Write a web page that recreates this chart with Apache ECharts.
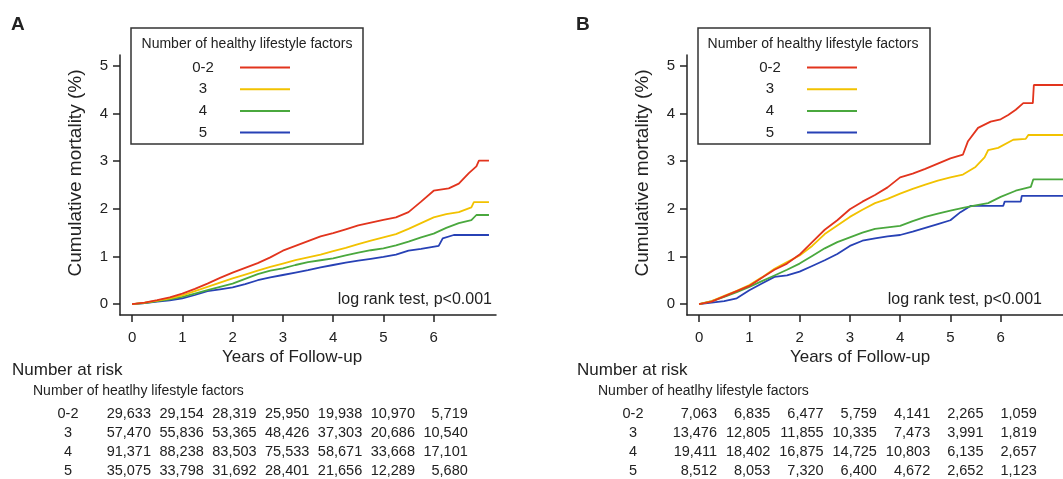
<!DOCTYPE html>
<html>
<head>
<meta charset="utf-8">
<script src="https://cdn.jsdelivr.net/npm/echarts@6/dist/echarts.min.js"></script>
<style>
  html, body { margin: 0; padding: 0; background: #fff; }
  #main { width: 1063px; height: 479px; }
</style>
</head>
<body>
<div id="main"></div>
<script>
// 分组名称和颜色
var groups = ['0-2', '3', '4', '5'];
var colors = ['#e2341d', '#f2c200', '#4aa83e', '#2741b5'];
var xTicks = [0, 1, 2, 3, 4, 5, 6];
var yTicks = [0, 1, 2, 3, 4, 5];

// 图A: [年, 累计死亡率%]
var a02 = [[0,0],[0.25,0.03],[0.5,0.08],[0.75,0.14],[1,0.22],[1.25,0.32],[1.5,0.43],[1.75,0.55],[2,0.66],[2.25,0.76],[2.5,0.86],[2.75,0.98],[3,1.12],[3.25,1.22],[3.5,1.32],[3.75,1.42],[4,1.49],[4.25,1.57],[4.5,1.65],[4.75,1.71],[5,1.77],[5.25,1.82],[5.5,1.93],[5.75,2.15],[6,2.38],[6.3,2.43],[6.5,2.53],[6.7,2.75],[6.85,2.89],[6.9,3.01],[7.1,3.01]];
var a3 = [[0,0],[0.25,0.03],[0.5,0.07],[0.75,0.12],[1,0.18],[1.25,0.27],[1.5,0.36],[1.75,0.45],[2,0.54],[2.25,0.62],[2.5,0.70],[2.75,0.78],[3,0.85],[3.25,0.92],[3.5,0.98],[3.75,1.04],[4,1.11],[4.25,1.18],[4.5,1.26],[4.75,1.33],[5,1.40],[5.25,1.47],[5.5,1.58],[5.75,1.70],[6,1.82],[6.25,1.89],[6.5,1.93],[6.75,2.03],[6.8,2.14],[7.1,2.14]];
var a4 = [[0,0],[0.25,0.02],[0.5,0.06],[0.75,0.10],[1,0.15],[1.25,0.22],[1.5,0.29],[1.75,0.36],[2,0.43],[2.25,0.53],[2.5,0.63],[2.75,0.70],[3,0.75],[3.25,0.82],[3.5,0.88],[3.75,0.92],[4,0.96],[4.25,1.02],[4.5,1.08],[4.75,1.13],[5,1.17],[5.25,1.23],[5.5,1.31],[5.75,1.40],[6,1.48],[6.25,1.60],[6.5,1.70],[6.75,1.76],[6.85,1.87],[7.1,1.87]];
var a5 = [[0,0],[0.25,0.02],[0.5,0.05],[0.75,0.08],[1,0.12],[1.25,0.19],[1.5,0.27],[1.75,0.31],[2,0.35],[2.25,0.42],[2.5,0.50],[2.75,0.56],[3,0.61],[3.25,0.66],[3.5,0.71],[3.75,0.77],[4,0.82],[4.25,0.87],[4.5,0.91],[4.75,0.95],[5,0.99],[5.25,1.04],[5.5,1.12],[5.75,1.16],[6.1,1.22],[6.18,1.38],[6.4,1.45],[7.1,1.45]];

// 图B
var b02 = [[0,0],[0.25,0.05],[0.5,0.16],[0.75,0.27],[1,0.38],[1.25,0.55],[1.5,0.72],[1.75,0.85],[2,1.04],[2.25,1.30],[2.5,1.56],[2.75,1.76],[3,1.99],[3.25,2.15],[3.5,2.29],[3.75,2.45],[4,2.66],[4.25,2.74],[4.5,2.84],[4.75,2.95],[5,3.06],[5.25,3.14],[5.35,3.42],[5.55,3.70],[5.8,3.83],[6,3.88],[6.15,3.97],[6.3,4.08],[6.45,4.22],[6.64,4.22],[6.66,4.60],[7.24,4.60]];
var b3 = [[0,0],[0.25,0.06],[0.5,0.17],[0.75,0.28],[1,0.40],[1.25,0.56],[1.5,0.74],[1.75,0.88],[2,1.02],[2.25,1.22],[2.5,1.47],[2.75,1.65],[3,1.83],[3.25,1.98],[3.5,2.12],[3.75,2.21],[4,2.32],[4.25,2.42],[4.5,2.51],[4.75,2.59],[5,2.66],[5.25,2.72],[5.5,2.88],[5.68,3.08],[5.75,3.23],[5.95,3.28],[6.25,3.45],[6.5,3.47],[6.55,3.55],[7.24,3.55]];
var b4 = [[0,0],[0.25,0.06],[0.5,0.15],[0.75,0.25],[1,0.36],[1.25,0.48],[1.5,0.60],[1.75,0.72],[2,0.85],[2.25,1.01],[2.5,1.17],[2.75,1.30],[3,1.40],[3.25,1.50],[3.5,1.58],[3.75,1.61],[4,1.64],[4.25,1.74],[4.5,1.83],[4.75,1.90],[5,1.96],[5.25,2.02],[5.5,2.07],[5.75,2.12],[6,2.25],[6.3,2.38],[6.6,2.46],[6.65,2.62],[7.24,2.62]];
var b5 = [[0,0],[0.25,0.03],[0.5,0.06],[0.75,0.12],[1,0.29],[1.25,0.43],[1.5,0.57],[1.75,0.60],[2,0.68],[2.25,0.80],[2.5,0.92],[2.75,1.05],[3,1.22],[3.25,1.33],[3.5,1.38],[3.75,1.42],[4,1.45],[4.25,1.52],[4.5,1.60],[4.75,1.68],[5,1.76],[5.2,1.93],[5.4,2.06],[6.05,2.06],[6.08,2.15],[6.4,2.15],[6.42,2.27],[7.24,2.27]];

// 风险人数表
var riskA = [
  [29633, 29154, 28319, 25950, 19938, 10970, 5719],
  [57470, 55836, 53365, 48426, 37303, 20686, 10540],
  [91371, 88238, 83503, 75533, 58671, 33668, 17101],
  [35075, 33798, 31692, 28401, 21656, 12289, 5680]
];
var riskB = [
  [7063, 6835, 6477, 5759, 4141, 2265, 1059],
  [13476, 12805, 11855, 10335, 7473, 3991, 1819],
  [19411, 18402, 16875, 14725, 10803, 6135, 2657],
  [8512, 8053, 7320, 6400, 4672, 2652, 1123]
];

var FONT = '"Liberation Sans", Arial, sans-serif';
var INK = '#222';

var myChart = echarts.init(document.getElementById('main'));

function xAxisOf(grid) {
  return {
    type: 'value', gridIndex: grid, min: -0.24, max: 7.24,
    axisLine: { show: true, onZero: false, lineStyle: { color: INK, width: 1.5 } },
    axisTick: { show: true, length: 7, customValues: xTicks, lineStyle: { color: INK, width: 1.5 } },
    axisLabel: { customValues: xTicks, margin: 15, fontSize: 15, color: INK, fontFamily: FONT },
    splitLine: { show: false }
  };
}
function yAxisOf(grid) {
  return {
    type: 'value', gridIndex: grid, min: -0.23, max: 5.23,
    name: 'Cumulative mortality (%)', nameLocation: 'middle', nameGap: 35,
    nameTextStyle: { fontSize: 19, color: INK, fontFamily: FONT, padding: [0, 0, 0, 24] },
    axisLine: { show: true, onZero: false, lineStyle: { color: INK, width: 1.5 } },
    axisTick: { show: true, length: 7, customValues: yTicks, lineStyle: { color: INK, width: 1.5 } },
    axisLabel: { customValues: yTicks, margin: 12, fontSize: 15, color: INK, fontFamily: FONT },
    splitLine: { show: false }
  };
}
function legendOf(left) {
  return {
    left: left, top: 28, orient: 'vertical', align: 'right',
    data: groups, icon: 'rect', itemWidth: 50, itemHeight: 2, itemGap: 6.7,
    padding: [32, 73, 4, 40],
    borderColor: '#333', borderWidth: 1.5,
    formatter: '{c|{name}}',
    textStyle: { color: INK, fontFamily: FONT,
      rich: { c: { width: 64, align: 'center', fontSize: 15, lineHeight: 16, color: INK, fontFamily: FONT } } }
  };
}

var dataA = [a02, a3, a4, a5];
var dataB = [b02, b3, b4, b5];
var series = [];
[dataA, dataB].forEach(function (set, p) {
  set.forEach(function (d, i) {
    series.push({
      name: groups[i], type: 'line', xAxisIndex: p, yAxisIndex: p,
      data: d, showSymbol: false, color: colors[i],
      lineStyle: { width: 1.8, color: colors[i] }, z: 10 - i
    });
  });
});

// 表格文字
var graphics = [];
function txt(x, y, s, size, align, weight) {
  graphics.push({ type: 'text', x: x, y: y, silent: true,
    style: { text: s, fontSize: size, fontFamily: FONT, fill: INK, align: align || 'left',
      verticalAlign: 'middle', fontWeight: weight || 'normal' } });
}
function panel(opt) {
  txt(opt.letterX, 25, opt.letter, 19, 'left', 'bold');
  txt(opt.legendCx, 44, 'Number of healthy lifestyle factors', 14, 'center');
  txt(opt.logX, 300, 'log rank test, p<0.001', 16, 'right');
  txt(opt.xTitle, 357, 'Years of Follow-up', 17, 'center');
  txt(opt.riskX, 370, 'Number at risk', 17, 'left');
  txt(opt.riskX + 21, 391, 'Number of heatlhy lifestyle factors', 14, 'left');
  opt.rows.forEach(function (row, r) {
    var y = 414 + r * 19;
    txt(opt.rowLabelX, y, groups[r], 14.5, 'center');
    row.forEach(function (v, c) {
      txt(opt.col0 + c * opt.colStep, y, v.toLocaleString('en-US'), 14.5, 'right');
    });
  });
}
panel({ letter: 'A', letterX: 11, legendCx: 247, logX: 492, xTitle: 292, riskX: 12, rowLabelX: 68, col0: 151, colStep: 52.8, rows: riskA });
panel({ letter: 'B', letterX: 576, legendCx: 813, logX: 1042, xTitle: 860, riskX: 577, rowLabelX: 633, col0: 717, colStep: 53.3, rows: riskB });

var option = {
  animation: false,
  textStyle: { fontFamily: FONT },
  grid: [
    { left: 120, top: 55, width: 376, height: 260, outerBoundsMode: 'none' },
    { left: 687, top: 55, width: 376, height: 260, outerBoundsMode: 'none' }
  ],
  xAxis: [xAxisOf(0), xAxisOf(1)],
  yAxis: [yAxisOf(0), yAxisOf(1)],
  legend: [legendOf(131), legendOf(698)],
  series: series,
  graphic: graphics
};
myChart.setOption(option);
</script>
</body>
</html>
